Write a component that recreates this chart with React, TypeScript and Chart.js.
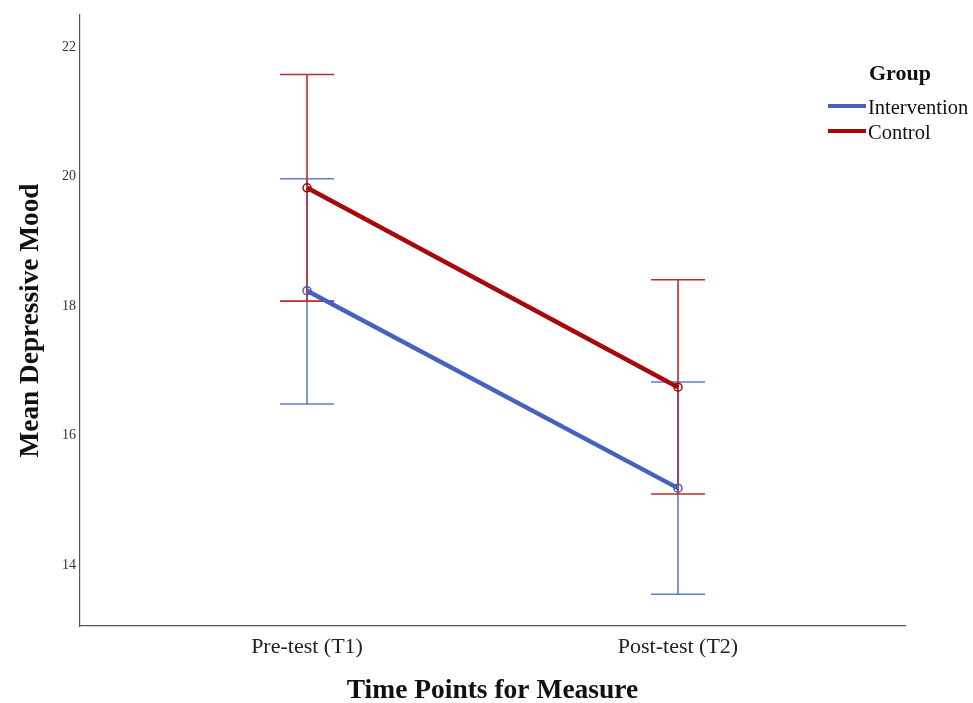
import React, { useEffect, useRef } from "react";
import { Chart, registerables } from "chart.js";

Chart.register(...registerables);

const timePoints = ["Pre-test (T1)", "Post-test (T2)"];
const interventionMean = [18.24, 15.19];
const interventionLower = [16.49, 13.55];
const interventionUpper = [19.97, 16.83];
const controlMean = [19.83, 16.75];
const controlLower = [18.08, 15.1];
const controlUpper = [21.58, 18.41];
const yTicks = [14, 16, 18, 20, 22];
const groupNames = ["Intervention", "Control"];

const lineColors = ["rgb(68,98,190)", "rgb(165,10,10)"];
const barColors = ["rgb(95,125,205)", "rgb(185,45,45)"];
const SERIF = '"Liberation Serif", "Times New Roman", serif';

const errorBarPlugin = {
  id: "errorBars",
  beforeDatasetsDraw(chart: any) {
    const { ctx, scales } = chart;
    const xs = scales.x;
    const ys = scales.y;
    const groups = [
      { lo: interventionLower, hi: interventionUpper, color: barColors[0] },
      { lo: controlLower, hi: controlUpper, color: barColors[1] },
    ];
    ctx.save();
    groups.forEach((g) => {
      ctx.strokeStyle = g.color;
      ctx.lineWidth = 1.6;
      g.lo.forEach((lo, i) => {
        const x = xs.getPixelForValue(i);
        const yl = ys.getPixelForValue(lo);
        const yh = ys.getPixelForValue(g.hi[i]);
        const half = 27;
        ctx.beginPath();
        ctx.moveTo(x, yl);
        ctx.lineTo(x, yh);
        ctx.moveTo(x - half, yl);
        ctx.lineTo(x + half, yl);
        ctx.moveTo(x - half, yh);
        ctx.lineTo(x + half, yh);
        ctx.stroke();
      });
    });
    ctx.restore();
  },
  afterDraw(chart: any) {
    const { ctx, chartArea } = chart;
    ctx.save();
    const lx = chartArea.right - 77;
    ctx.fillStyle = "#111";
    ctx.font = `bold 22px ${SERIF}`;
    ctx.textAlign = "left";
    ctx.textBaseline = "middle";
    ctx.fillText("Group", lx + 41, 74);
    ctx.font = `20.5px ${SERIF}`;
    groupNames.forEach((name, i) => {
      const y = 106 + i * 25;
      ctx.strokeStyle = lineColors[i];
      ctx.lineWidth = 4;
      ctx.beginPath();
      ctx.moveTo(lx, y);
      ctx.lineTo(lx + 38, y);
      ctx.stroke();
      ctx.fillStyle = "#111";
      ctx.fillText(name, lx + 40, y + 2.5);
    });
    ctx.restore();
  },
};

export default function App() {
  const ref = useRef<HTMLCanvasElement | null>(null);
  useEffect(() => {
    if (!ref.current) return;
    const chart = new Chart(ref.current, {
      type: "line",
      data: {
        datasets: [
          {
            label: groupNames[0],
            data: interventionMean.map((v, i) => ({ x: i, y: v })),
            borderColor: lineColors[0],
            borderWidth: 4.5,
            pointRadius: 4,
            pointBorderWidth: 1.5,
            pointBackgroundColor: "rgba(0,0,0,0)",
            pointBorderColor: lineColors[0],
          },
          {
            label: groupNames[1],
            data: controlMean.map((v, i) => ({ x: i, y: v })),
            borderColor: lineColors[1],
            borderWidth: 4.5,
            pointRadius: 4,
            pointBorderWidth: 1.5,
            pointBackgroundColor: "rgba(0,0,0,0)",
            pointBorderColor: lineColors[1],
          },
        ],
      },
      options: {
        animation: false,
        responsive: false,
        layout: { padding: { top: 15, right: 68, left: 0, bottom: 0 } },
        plugins: { legend: { display: false }, tooltip: { enabled: false } },
        scales: {
          x: {
            type: "linear",
            min: -0.612,
            max: 1.612,
            grid: { display: false, drawTicks: false },
            border: { display: true, color: "#555", width: 1.2 },
            afterBuildTicks: (s: any) => {
              s.ticks = timePoints.map((_, i) => ({ value: i }));
            },
            afterFit: (s: any) => {
              s.height = 77;
            },
            ticks: {
              padding: 8,
              color: "#222",
              font: { family: SERIF, size: 22 },
              callback: (v: any) => timePoints[v as number] ?? "",
            },
            title: {
              display: true,
              text: "Time Points for Measure",
              color: "#111",
              font: { family: SERIF, size: 27.5, weight: "bold", lineHeight: 0.9 },
              padding: { top: 0, bottom: 0 },
            },
          },
          y: {
            type: "linear",
            min: 13.06,
            max: 22.5,
            grid: { display: false, drawTicks: false },
            border: { display: true, color: "#555", width: 1.2 },
            afterBuildTicks: (s: any) => {
              s.ticks = yTicks.map((v) => ({ value: v }));
            },
            afterFit: (s: any) => {
              s.width = 80;
            },
            ticks: {
              padding: 4,
              color: "#333",
              font: { family: SERIF, size: 14 },
            },
            title: {
              display: true,
              text: "Mean Depressive Mood",
              color: "#111",
              font: { family: SERIF, size: 27.3, weight: "bold", lineHeight: 1.2 },
              padding: { top: 15, bottom: 0 },
            },
          },
        },
      },
      plugins: [errorBarPlugin],
    } as any);
    return () => chart.destroy();
  }, []);
  return (
    <div style={{ position: "fixed", left: 0, top: 0, width: 973, height: 703, background: "#fff" }}>
      <canvas ref={ref} width={973} height={703} style={{ width: 973, height: 703 }} />
    </div>
  );
}
